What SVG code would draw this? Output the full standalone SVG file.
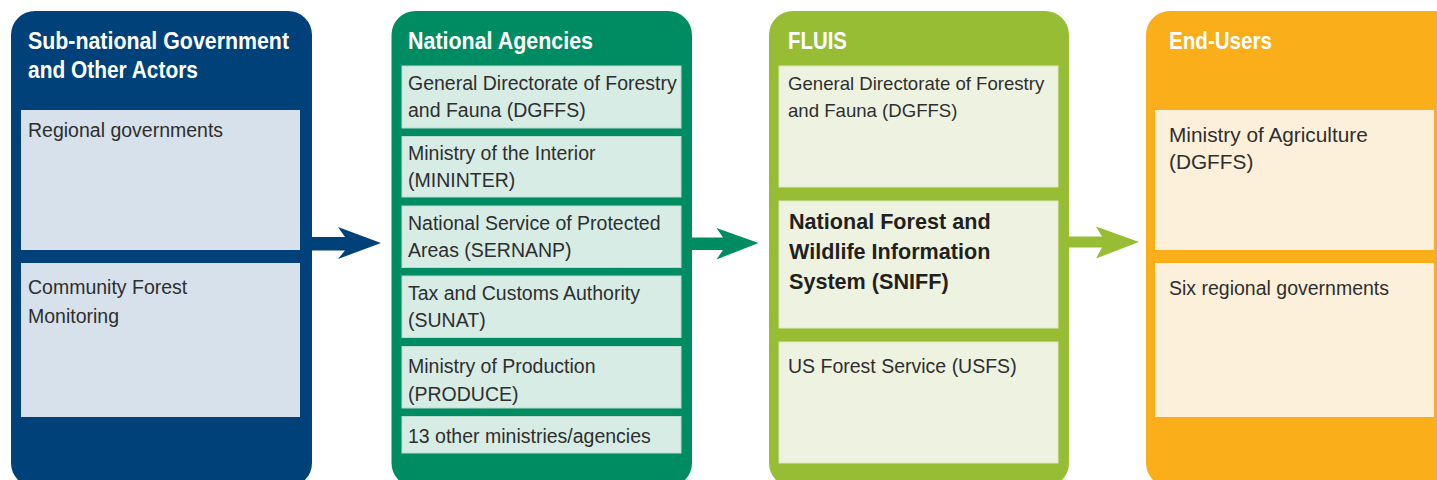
<svg xmlns="http://www.w3.org/2000/svg" width="1437" height="480" viewBox="0 0 1437 480">
<style>
.title{font-family:"Liberation Sans",Arial,sans-serif;font-weight:bold;font-size:23px;fill:#ffffff}
.body{font-family:"Liberation Sans",Arial,sans-serif;font-size:19.5px;fill:#2e2e2e}
.sm{font-size:18.6px}
.lg{font-size:20.8px}
.bold{font-family:"Liberation Sans",Arial,sans-serif;font-weight:bold;font-size:21.6px;fill:#231f20}
.p1{fill:#00417a}.b1{fill:#d6e1eb}
.p2{fill:#008c63}.b2{fill:#d8ece6;stroke:#b9ddd0;stroke-width:1}
.p3{fill:#97bd35}.b3{fill:#eef3e1;stroke:#dbe8bf;stroke-width:1}
.p4{fill:#f9ae1a}.b4{fill:#fdf0da}
</style>
<rect width="1437" height="480" fill="#ffffff"/>
<g id="subnational">
<rect class="p1" x="11" y="11" width="301" height="476" rx="24"/>
<text class="title" x="28" y="49" textLength="261" lengthAdjust="spacingAndGlyphs">Sub-national Government</text>
<text class="title" x="28" y="77.5" textLength="170" lengthAdjust="spacingAndGlyphs">and Other Actors</text>
<rect class="b1" x="21" y="110" width="279" height="140"/>
<text class="body" x="28" y="137">Regional governments</text>
<rect class="b1" x="21" y="263" width="279" height="154"/>
<text class="body" x="28" y="294.3">Community Forest</text>
<text class="body" x="28" y="322.7">Monitoring</text>
</g>
<g id="national-agencies">
<rect class="p2" x="391.5" y="11" width="300.5" height="476" rx="24"/>
<text class="title" x="408" y="49" textLength="185" lengthAdjust="spacingAndGlyphs">National Agencies</text>
<rect class="b2" x="402" y="66" width="279" height="62"/>
<text class="body" x="408" y="90">General Directorate of Forestry</text>
<text class="body" x="408" y="116.7">and Fauna (DGFFS)</text>
<rect class="b2" x="402" y="136.5" width="279" height="60.5"/>
<text class="body" x="408" y="160">Ministry of the Interior</text>
<text class="body" x="408" y="186.7">(MININTER)</text>
<rect class="b2" x="402" y="206" width="279" height="61.5"/>
<text class="body" x="408" y="230">National Service of Protected</text>
<text class="body" x="408" y="256.7">Areas (SERNANP)</text>
<rect class="b2" x="402" y="276" width="279" height="61.5"/>
<text class="body" x="408" y="300">Tax and Customs Authority</text>
<text class="body" x="408" y="326.7">(SUNAT)</text>
<rect class="b2" x="402" y="346.5" width="279" height="61.5"/>
<text class="body" x="408" y="373">Ministry of Production</text>
<text class="body" x="408" y="400.7">(PRODUCE)</text>
<rect class="b2" x="402" y="416.5" width="279" height="36.5"/>
<text class="body" x="408" y="443">13 other ministries/agencies</text>
</g>
<g id="fluis">
<rect class="p3" x="769" y="11" width="300" height="476" rx="24"/>
<text class="title" x="788" y="49" textLength="59" lengthAdjust="spacingAndGlyphs">FLUIS</text>
<rect class="b3" x="779" y="66" width="279" height="121"/>
<text class="body sm" x="788" y="90">General Directorate of Forestry</text>
<text class="body sm" x="788" y="117">and Fauna (DGFFS)</text>
<rect class="b3" x="779" y="201" width="279" height="127"/>
<text class="bold" x="789" y="229">National Forest and</text>
<text class="bold" x="789" y="259">Wildlife Information</text>
<text class="bold" x="789" y="288.5">System (SNIFF)</text>
<rect class="b3" x="779" y="342" width="279" height="121"/>
<text class="body" x="788" y="373.3">US Forest Service (USFS)</text>
</g>
<g id="end-users">
<rect class="p4" x="1146" y="11" width="320" height="476" rx="24"/>
<text class="title" x="1169" y="49" textLength="103" lengthAdjust="spacingAndGlyphs">End-Users</text>
<rect class="b4" x="1155" y="110" width="279" height="140"/>
<text class="body lg" x="1169" y="141.7">Ministry of Agriculture</text>
<text class="body lg" x="1169" y="168.5">(DGFFS)</text>
<rect class="b4" x="1155" y="263" width="279" height="154"/>
<text class="body" x="1169" y="295">Six regional governments</text>
</g>
<g id="connectors">
<polygon fill="#00417a" points="310,237 345,237 338,227 381,243 338,259 345,250.5 310,250.5"/>
<polygon fill="#008c63" points="690,237.5 723,237.5 716.5,228 758.5,243 716.5,259.5 723,250 690,250"/>
<polygon fill="#97bd35" points="1068,236.5 1102,236.5 1096,226.5 1139,242 1096,258.5 1102,247.5 1068,247.5"/>
</g>
</svg>
